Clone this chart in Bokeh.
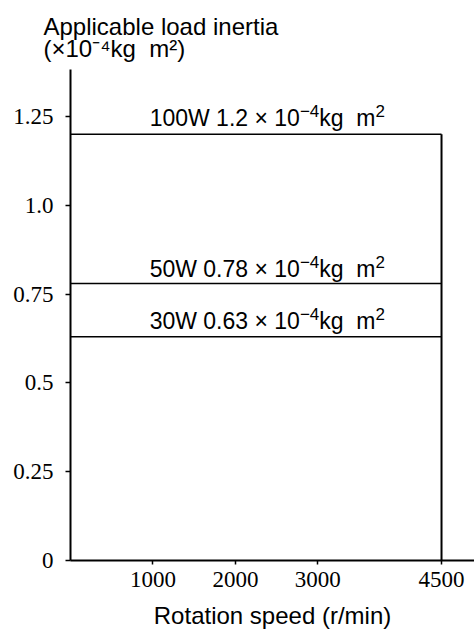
from bokeh.plotting import figure
from bokeh.models import ColumnDataSource, FixedTicker, Title
from bokeh.core.properties import value
from bokeh.embed import file_html
from bokeh.resources import INLINE

# ---- data ----
motor_power = ["100W", "50W", "30W"]
load_inertia = [1.2, 0.78, 0.63]          # x10^-4 kg m^2
max_speed = 4500                           # r/min
x_ticks = [1000, 2000, 3000, 4500]
y_ticks = [0, 0.25, 0.5, 0.75, 1.0, 1.25]
y_tick_labels = ["0", "0.25", "0.5", "0.75", "1.0", "1.25"]
label_speed = 960
y_title = "Applicable load inertia\n(\u00d710\u207b\u2074kg\u00a0\u00a0m\u00b2)"
x_title = "Rotation speed (r/min)"

# ---- style ----
SANS = "Liberation Sans"
SERIF = "Liberation Serif"
MAIN_PX = 23
SUP_PX = 17
label_raise = [-16, -14, -16]   # px, baseline shift of each line label
SUP_RAISE = 7

# Arial / Liberation Sans advance widths (per 1000 em)
ADV = {"0": 556, "1": 556, "2": 556, "3": 556, "4": 556, "5": 556, "6": 556,
       "7": 556, "8": 556, "9": 556, ".": 278, " ": 278, "\u00a0": 278, "W": 944,
       "\u00d7": 584, "\u2212": 584, "k": 500, "g": 556, "m": 833,
       "(": 333, ")": 333}


def width(s, px):
    return sum(ADV.get(c, 556) for c in s) * px / 1000.0


part_a = [f"{pw} {v} \u00d7 10" for pw, v in zip(motor_power, load_inertia)]
part_b = ["\u22124"] * len(load_inertia)
part_c = ["kg\u00a0\u00a0m"] * len(load_inertia)
part_d = ["2"] * len(load_inertia)
off_b = [width(a, MAIN_PX) for a in part_a]
off_c = [ob + width("\u22124", SUP_PX) for ob in off_b]
off_d = [oc + width("kg\u00a0\u00a0m", MAIN_PX) for oc in off_c]

p = figure(width=474, height=631, x_range=(0, 4900), y_range=(0, 1.382),
           output_backend="svg", toolbar_location=None,
           min_border_left=70, min_border_right=0, min_border_top=69,
           min_border_bottom=70)
p.outline_line_color = None
p.xgrid.visible = False
p.ygrid.visible = False
p.background_fill_color = "white"

src = ColumnDataSource(dict(
    x0=[0] * len(load_inertia), x1=[max_speed] * len(load_inertia),
    y=load_inertia, lx=[label_speed] * len(load_inertia),
    a=part_a, b=part_b, c=part_c, d=part_d,
    ob=off_b, oc=off_c, od=off_d,
    ya=label_raise, ys=[r - SUP_RAISE for r in label_raise],
))
p.segment(x0="x0", y0="y", x1="x1", y1="y", source=src, line_color="black", line_width=1.5)
p.segment(x0=[max_speed], y0=[0], x1=[max_speed], y1=[max(load_inertia)],
          line_color="black", line_width=2)

common = dict(source=src, text_font=value(SANS), text_color="black",
              text_baseline="alphabetic", text_align="left")
p.text(x="lx", y="y", text="a", y_offset="ya", text_font_size=f"{MAIN_PX}px", **common)
p.text(x="lx", y="y", text="b", x_offset="ob", y_offset="ys", text_font_size=f"{SUP_PX}px", **common)
p.text(x="lx", y="y", text="c", x_offset="oc", y_offset="ya", text_font_size=f"{MAIN_PX}px", **common)
p.text(x="lx", y="y", text="d", x_offset="od", y_offset="ys", text_font_size=f"{SUP_PX}px", **common)

# axes
for ax in (p.xaxis[0], p.yaxis[0]):
    ax.axis_line_width = 2
    ax.axis_line_color = "black"
    ax.major_tick_line_color = "black"
    ax.major_tick_line_width = 1.5
    ax.minor_tick_line_color = None
    ax.major_tick_in = 0
    ax.major_label_text_font = SERIF
    ax.major_label_text_font_size = "23px"
    ax.major_label_text_color = "black"

p.xaxis.ticker = FixedTicker(ticks=x_ticks)
p.xaxis.major_tick_out = 4
p.xaxis.major_label_standoff = 7
p.xaxis.axis_label = x_title
p.xaxis.axis_label_text_font = SANS
p.xaxis.axis_label_text_font_size = "24px"
p.xaxis.axis_label_text_font_style = "normal"
p.xaxis.axis_label_text_color = "black"
p.xaxis.axis_label_standoff = 12

p.yaxis.ticker = FixedTicker(ticks=y_ticks)
p.yaxis.major_label_overrides = {t: l for t, l in zip(y_ticks, y_tick_labels)}
p.yaxis.major_tick_out = 5
p.yaxis.major_label_standoff = 12

# y-axis title (two lines above the plot)
t = Title(text=y_title, align="left", offset=-27,
          text_font=SANS, text_font_size="24px", text_font_style="normal",
          text_color="black", text_line_height=0.84, standoff=14)
p.add_layout(t, "above")

open("out.html", "w").write(file_html(p, INLINE))
